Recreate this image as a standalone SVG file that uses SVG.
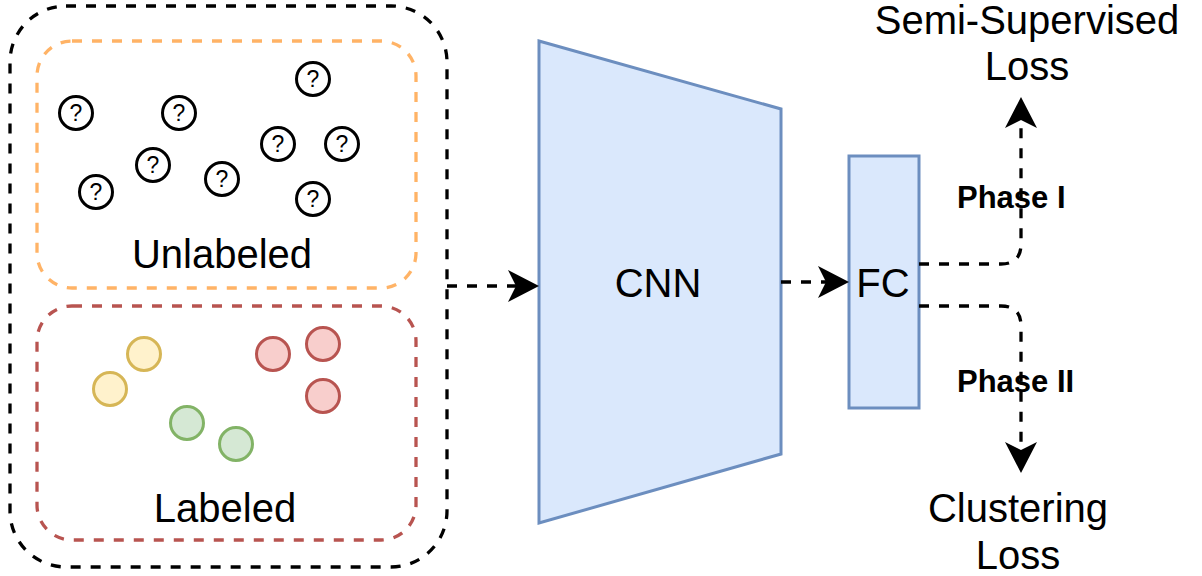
<svg xmlns="http://www.w3.org/2000/svg" width="1202" height="576" viewBox="0 0 1202 576">
<style>
  text { font-family: "Liberation Sans", Arial, sans-serif; fill: #000; }
  .big { font-size: 40px; text-anchor: middle; }
  .q { font-size: 23px; text-anchor: middle; }
  .phase { font-size: 31px; font-weight: bold; }
  .qc { fill: #fff; stroke: #000; stroke-width: 3; }
  .yel { fill: #fff2cc; stroke: #d6b656; stroke-width: 3; }
  .grn { fill: #d5e8d4; stroke: #82b366; stroke-width: 3; }
  .red { fill: #f8cecc; stroke: #b85450; stroke-width: 3; }
  .blue { fill: #dae8fc; stroke: #6c8ebf; stroke-width: 3; }
  .box { fill: none; stroke-width: 3.3; stroke-dasharray: 10 10; }
  .conn { fill: none; stroke: #000; stroke-width: 3.3; stroke-dasharray: 10 10; }
</style>
<defs>
  <marker id="arr" markerUnits="userSpaceOnUse" viewBox="0 0 32 32" refX="8" refY="16" markerWidth="32" markerHeight="32" orient="auto">
    <path d="M0,0 L31,16 L0,32 L8,16 Z" fill="#000"/>
  </marker>
</defs>

<g id="outer-box">
  <rect class="box" x="10" y="6" width="437" height="561" rx="56" ry="56" stroke="#000"/>
</g>

<g id="unlabeled">
  <rect class="box" x="37" y="41" width="379" height="247" rx="35" ry="35" stroke="#ffb366"/>
  <text class="big" x="222" y="268">Unlabeled</text>
</g>
<g id="q1"><circle class="qc" cx="76" cy="113" r="16.5"/><text class="q" x="76" y="121">?</text></g>
<g id="q2"><circle class="qc" cx="179" cy="113" r="16.5"/><text class="q" x="179" y="121">?</text></g>
<g id="q3"><circle class="qc" cx="313" cy="79" r="16.5"/><text class="q" x="313" y="87">?</text></g>
<g id="q4"><circle class="qc" cx="278" cy="144" r="16.5"/><text class="q" x="278" y="152">?</text></g>
<g id="q5"><circle class="qc" cx="342" cy="144" r="16.5"/><text class="q" x="342" y="152">?</text></g>
<g id="q6"><circle class="qc" cx="153" cy="165" r="16.5"/><text class="q" x="153" y="173">?</text></g>
<g id="q7"><circle class="qc" cx="222" cy="179" r="16.5"/><text class="q" x="222" y="187">?</text></g>
<g id="q8"><circle class="qc" cx="96" cy="192" r="16.5"/><text class="q" x="96" y="200">?</text></g>
<g id="q9"><circle class="qc" cx="313" cy="199" r="16.5"/><text class="q" x="313" y="207">?</text></g>

<g id="labeled">
  <rect class="box" x="37" y="306" width="379" height="234" rx="35" ry="35" stroke="#b85450"/>
  <text class="big" x="225" y="522">Labeled</text>
</g>
<g id="y1"><circle class="yel" cx="144" cy="354" r="16.5"/></g>
<g id="y2"><circle class="yel" cx="110" cy="389" r="16.5"/></g>
<g id="g1"><circle class="grn" cx="187" cy="423" r="16.5"/></g>
<g id="g2"><circle class="grn" cx="236" cy="444" r="16.5"/></g>
<g id="r1"><circle class="red" cx="273" cy="354" r="16.5"/></g>
<g id="r2"><circle class="red" cx="323" cy="344" r="16.5"/></g>
<g id="r3"><circle class="red" cx="323" cy="396" r="16.5"/></g>

<g id="cnn">
  <polygon class="blue" points="539,41 781,109 781,454 539,523"/>
  <text class="big" x="658" y="297">CNN</text>
</g>

<g id="fc">
  <rect class="blue" x="849" y="156" width="70" height="252"/>
  <text class="big" x="883" y="297">FC</text>
</g>

<g id="semi-loss">
  <text class="big" x="1027" y="34">Semi-Supervised</text>
  <text class="big" x="1027" y="80">Loss</text>
</g>
<g id="cluster-loss">
  <text class="big" x="1018" y="522">Clustering</text>
  <text class="big" x="1018" y="569">Loss</text>
</g>

<g id="connectors">
  <path class="conn" d="M447,286 L516,286" marker-end="url(#arr)"/>
  <path class="conn" d="M781,282 L826,282" marker-end="url(#arr)"/>
  <path class="conn" d="M919,264 L1001,264 Q1021,264 1021,244 L1021,120" marker-end="url(#arr)"/>
  <path class="conn" d="M919,306 L1001,306 Q1021,306 1021,326 L1021,450" marker-end="url(#arr)"/>
  <text class="phase" x="957" y="208">Phase I</text>
  <text class="phase" x="957" y="392">Phase II</text>
</g>
</svg>
